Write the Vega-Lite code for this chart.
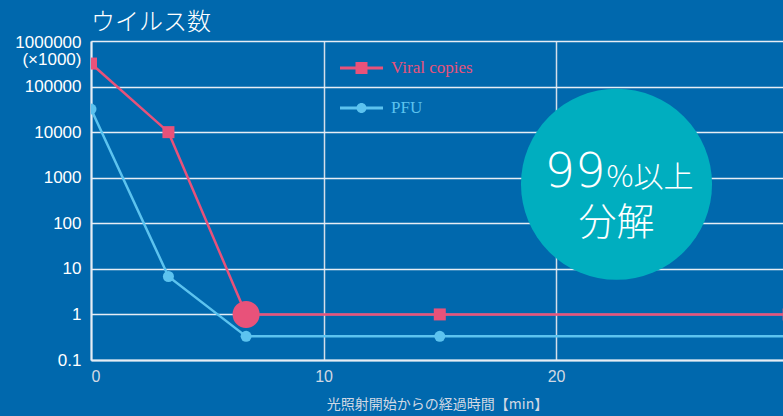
{
  "$schema": "https://vega.github.io/schema/vega-lite/v6.json",
  "width": 692,
  "height": 319,
  "autosize": {"type": "none"},
  "padding": {"left": 91, "top": 41, "right": 0, "bottom": 56},
  "background": "#0068ad",
  "title": {
    "text": "ウイルス数",
    "anchor": "start",
    "frame": "group",
    "font": "Noto Sans CJK JP",
    "fontSize": 24,
    "fontWeight": 300,
    "color": "#ffffff",
    "offset": -2
  },
  "config": {
    "view": {"stroke": null},
    "font": "Liberation Sans",
    "legend": {
      "symbolSize": 400,
      "labelOffset": 19.5,
      "rowPadding": 22,
      "padding": 0,
      "labelFont": "Liberation Serif",
      "labelFontSize": 17
    }
  },
  "datasets": {
    "series": [
      {"minutes": 0, "count": 320000, "series": "Viral copies", "marker": "yes"},
      {"minutes": 3.33, "count": 10000, "series": "Viral copies", "marker": "yes"},
      {"minutes": 6.67, "count": 1, "series": "Viral copies", "marker": "big"},
      {"minutes": 15, "count": 1, "series": "Viral copies", "marker": "yes"},
      {"minutes": 30, "count": 1, "series": "Viral copies", "marker": "yes"},
      {"minutes": 0, "count": 32000, "series": "PFU", "marker": "yes"},
      {"minutes": 3.33, "count": 6.8, "series": "PFU", "marker": "yes"},
      {"minutes": 6.67, "count": 0.33, "series": "PFU", "marker": "yes"},
      {"minutes": 15, "count": 0.33, "series": "PFU", "marker": "yes"},
      {"minutes": 30, "count": 0.33, "series": "PFU", "marker": "yes"}
    ],
    "badge": [
      {"minutes": 22.6, "count": 720, "big": "99", "small": "%以上", "line2": "分解"}
    ]
  },
  "encoding": {
    "x": {
      "field": "minutes",
      "type": "quantitative",
      "scale": {"domain": [0, 29.76], "nice": false, "zero": false},
      "axis": {
        "values": [0, 10, 20],
        "title": "光照射開始からの経過時間【min】",
        "titleFont": "Noto Sans CJK JP",
        "titleFontSize": 14,
        "titleFontWeight": "normal",
        "titleColor": "#d0d8e4",
        "titlePadding": 13,
        "labelFont": "Liberation Sans",
        "labelFontSize": 16,
        "labelColor": "#d0d8e4",
        "labelPadding": 8,
        "ticks": false,
        "domainColor": "#e6edf5",
        "domainWidth": 2,
        "gridColor": "#d4deea",
        "gridWidth": 1.5,
        "gridOpacity": 1
      }
    },
    "y": {
      "field": "count",
      "type": "quantitative",
      "scale": {"type": "log", "domain": [0.1, 1000000], "nice": false},
      "axis": {
        "values": [0.1, 1, 10, 100, 1000, 10000, 100000, 1000000],
        "title": null,
        "labelExpr": "datum.value >= 1000000 ? ['1000000', '(×1000)'] : (datum.value < 1 ? '0.1' : format(datum.value, 'd'))",
        "labelOffset": {"condition": {"test": "datum.value >= 1000000", "value": 1}, "value": 0},
        "labelFont": "Liberation Sans",
        "labelFontSize": 17,
        "labelColor": "#ffffff",
        "labelPadding": 10,
        "labelLineHeight": 17,
        "ticks": false,
        "domainColor": "#e6edf5",
        "domainWidth": 2,
        "gridColor": "#e6edf5",
        "gridWidth": 1.5,
        "gridOpacity": 1
      }
    }
  },
  "layer": [
    {
      "data": {"name": "series"},
      "mark": {"type": "line", "strokeWidth": 2.5, "clip": true},
      "encoding": {
        "color": {
          "field": "series",
          "type": "nominal",
          "scale": {"domain": ["Viral copies", "PFU"], "range": ["#e8527a", "#5cc3ef"]},
          "legend": {
            "orient": "none",
            "legendX": 260.5,
            "legendY": 17,
            "title": null,
            "symbolType": "M-2.15,-0.15H2.15V0.15H-2.15Z",
            "encode": {
              "symbols": {
                "update": {
                  "shape": {"signal": "datum.value == 'PFU' ? 'M-2.15,-0.15H2.15V0.15H-2.15Z M-0.5,0A0.5,0.5 0 1,1 0.5,0A0.5,0.5 0 1,1 -0.5,0Z' : 'M-2.15,-0.15H2.15V0.15H-2.15Z M-0.6,-0.6H0.6V0.6H-0.6Z'"},
                  "fill": {"signal": "datum.value == 'PFU' ? '#5cc3ef' : '#e8527a'"},
                  "strokeWidth": {"value": 0},
                  "opacity": {"value": 1}
                }
              },
              "labels": {
                "update": {
                  "fill": {"signal": "datum.value == 'PFU' ? '#5cc3ef' : '#e8527a'"}
                }
              }
            }
          }
        }
      }
    },
    {
      "data": {"name": "series"},
      "transform": [{"filter": "datum.marker == 'yes' && datum.series == 'Viral copies'"}],
      "mark": {"type": "point", "filled": true, "opacity": 1, "shape": "square", "size": 144, "clip": true, "color": "#e8527a"},
      "encoding": {}
    },
    {
      "data": {"name": "series"},
      "transform": [{"filter": "datum.marker == 'yes' && datum.series == 'PFU'"}],
      "mark": {"type": "point", "filled": true, "opacity": 1, "shape": "circle", "size": 121, "clip": true, "color": "#5cc3ef"},
      "encoding": {}
    },
    {
      "data": {"name": "series"},
      "transform": [{"filter": "datum.marker == 'big'"}],
      "mark": {"type": "point", "filled": true, "opacity": 1, "shape": "circle", "size": 730, "color": "#e8527a"},
      "encoding": {}
    },
    {
      "data": {"name": "badge"},
      "mark": {"type": "point", "filled": true, "opacity": 1, "shape": "circle", "size": 36500, "color": "#00aebf"},
      "encoding": {}
    },
    {
      "data": {"name": "badge"},
      "mark": {"type": "text", "align": "right", "baseline": "alphabetic", "dx": -11, "dy": 3, "font": "DejaVu Sans", "fontWeight": 200, "fontSize": 48, "color": "#ffffff"},
      "encoding": {"text": {"field": "big"}}
    },
    {
      "data": {"name": "badge"},
      "mark": {"type": "text", "align": "left", "baseline": "alphabetic", "dx": -10, "dy": 3, "font": "Noto Sans CJK JP", "fontWeight": 300, "fontSize": 30, "color": "#ffffff"},
      "encoding": {"text": {"field": "small"}}
    },
    {
      "data": {"name": "badge"},
      "mark": {"type": "text", "align": "center", "baseline": "alphabetic", "dx": 0, "dy": 51, "font": "Noto Sans CJK JP", "fontWeight": 300, "fontSize": 38, "color": "#ffffff"},
      "encoding": {"text": {"field": "line2"}}
    }
  ]
}
